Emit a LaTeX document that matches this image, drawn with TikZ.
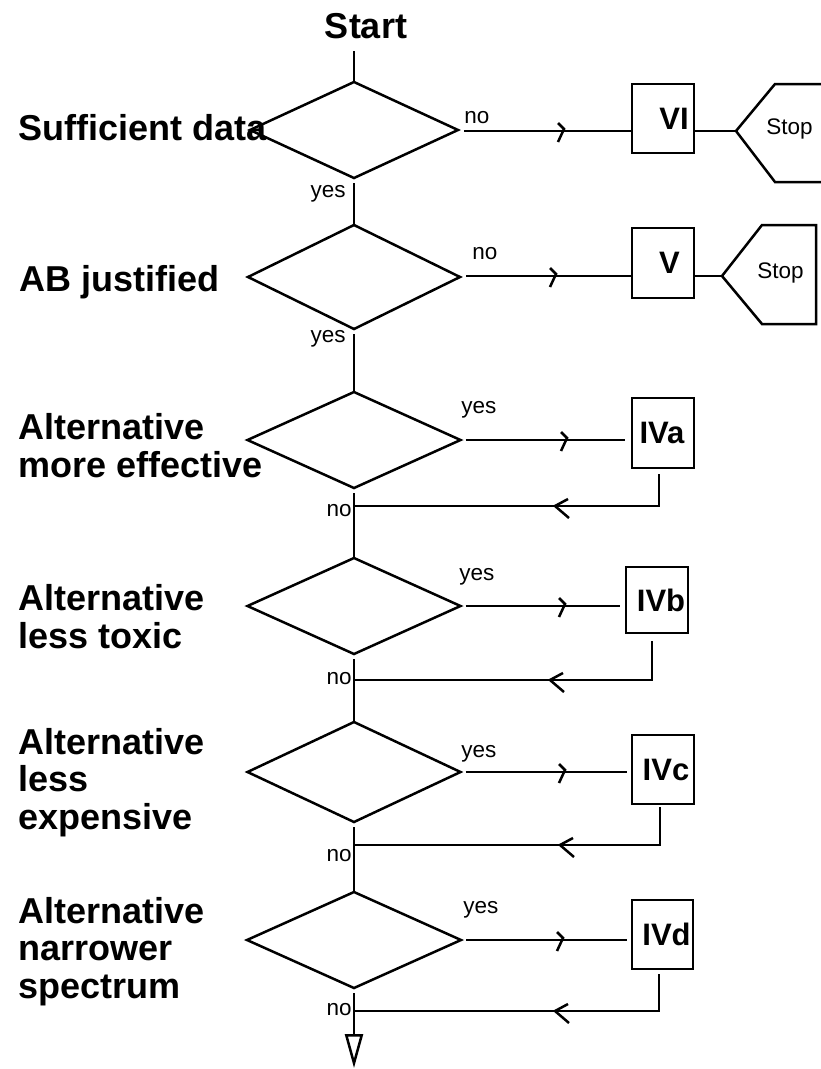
\documentclass[tikz,border=0pt]{standalone}
\usepackage{fontspec}
\setmainfont{Liberation Sans}
\usetikzlibrary{shapes.geometric,calc,decorations.markings,arrows.meta}
\begin{document}
\begin{tikzpicture}[x=1pt,y=-1pt,line width=2.5pt,
  dia/.style={draw,diamond,inner sep=0pt,outer sep=0pt,minimum width=213pt,minimum height=96pt},
  box/.style={draw,rectangle,inner sep=0pt,outer sep=0pt,minimum width=62pt,minimum height=70pt},
  boxtxt/.style={font=\fontsize{31}{31}\selectfont\bfseries,inner sep=0pt},
  big/.style={font=\fontsize{36}{37.5}\selectfont\bfseries,align=left,inner sep=0pt},
  small/.style={font=\fontsize{22.5}{24}\selectfont,inner sep=0pt},
  rmark/.style={postaction={decorate},decoration={markings,mark=at position #1 with {\draw[line width=2.5pt] (-6pt,8pt) -- (0pt,2pt) -- (-6pt,-11pt);}}},
  lmark/.style={postaction={decorate},decoration={markings,mark=at position #1 with {\draw[line width=2.5pt] (-13pt,-7pt) -- (0pt,0pt) -- (-14pt,12pt);}}},
  spine/.style={draw,shorten <=5pt}
]
\fill[white] (0,0) rectangle (820,1069);
\useasboundingbox (0,0) rectangle (820,1069);

% start
\node[big,anchor=base] (start) at (366,38) {Start};
\coordinate (s0) at (354,51);

% decisions
\node[dia,minimum width=208pt] (D1) at (354,130) {};
\node[dia,minimum width=212pt,minimum height=104pt] (D2) at (354,277) {};
\node[dia] (D3) at (354,440) {};
\node[dia] (D4) at (354,606) {};
\node[dia,minimum height=100pt] (D5) at (354,772) {};
\node[dia,minimum width=214pt] (D6) at (354,940) {};

% left texts (base anchor = baseline of last line)
\node[big,anchor=base west] (t1) at (17,140) {Sufficient data};
\node[big,anchor=base west] (t2) at (18,291) {AB justified};
\node[big,anchor=base west] (t3) at (17,477) {Alternative\\more effective};
\node[big,anchor=base west] (t4) at (17,648) {Alternative\\less toxic};
\node[big,anchor=base west] (t5) at (17,829) {Alternative\\less\\expensive};
\node[big,anchor=base west] (t6) at (17,998) {Alternative\\narrower\\spectrum};

% boxes
\node[box,minimum height=69pt] (VI) at (663,118.5) {};
\node[boxtxt] (VIt) at (674,118.5) {VI};
\node[box] (V) at (663,263) {};
\node[boxtxt] (Vt) at (669.5,263) {V};
\node[box] (IVa) at (663,433) {};
\node[boxtxt] (IVat) at (662,433) {IVa};
\node[box,minimum height=66pt] (IVb) at (657,600) {};
\node[boxtxt] (IVbt) at (661,600) {IVb};
\node[box,minimum height=69pt] (IVc) at (663,769.5) {};
\node[boxtxt] (IVct) at (666,769.5) {IVc};
\node[box,minimum width=61pt,minimum height=69pt] (IVd) at (662.5,934.5) {};
\node[boxtxt] (IVdt) at (666.5,934.5) {IVd};

% stop shapes
\coordinate (H1) at (736,131);
\coordinate (H2) at (722,276);
\draw (H1) -- (775,84) -- (832,84) -- (832,182) -- (775,182) -- cycle;
\draw (H2) -- (762,225) -- (816,225) -- (816,324) -- (762,324) -- cycle;
\node[small,anchor=base west] (stop1) at (765,134) {Stop};
\node[small,anchor=base west] (stop2) at (756,278) {Stop};

% spine
\draw (s0) -- (D1.north);
\draw[spine] (D1.south) -- (D2.north);
\draw[spine] (D2.south) -- (D3.north);
\draw[spine] (D3.south) -- (D4.north);
\draw[spine] (D4.south) -- (D5.north);
\draw[spine] (D5.south) -- (D6.north);
\coordinate (end) at (354,1068);
\draw[spine,-{Triangle[open,length=34pt,width=18pt]}] (D6.south) -- (end);

% branches to the right
\draw[rmark=-67pt] ($(D1.east)+(6,1)$) -- ($(D1.east -| VI.west)+(-1,1)$);
\draw (VI.east |- H1) -- (H1);
\draw[rmark=-75pt] ($(D2.east)+(6,-1)$) -- ($(D2.east -| V.west)+(-1,-1)$);
\draw (V.east |- H2) -- (H2);
\draw[rmark=-58pt] ($(D3.east)+(5,0)$) -- ($(D3.east -| IVa.west)+(-7,0)$);
\draw[rmark=-55pt] ($(D4.east)+(5,0)$) -- ($(D4.east -| IVb.west)+(-6,0)$);
\draw[rmark=-62pt] ($(D5.east)+(5,0)$) -- ($(D5.east -| IVc.west)+(-5,0)$);
\draw[rmark=-64pt] ($(D6.east)+(5,0)$) -- ($(D6.east -| IVd.west)+(-5,0)$);

% return lines
\coordinate (J3) at (354,506);
\coordinate (J4) at (354,680);
\coordinate (J5) at (354,845);
\coordinate (J6) at (354,1011);
\draw[lmark=-201pt] ($(IVa.south)+(-4,6)$) |- (J3);
\draw[lmark=-196pt] ($(IVb.south)+(-5,8)$) |- (J4);
\draw[lmark=-206pt] ($(IVc.south)+(-3,3)$) |- (J5);
\draw[lmark=-201pt] ($(IVd.south)+(-3.5,5)$) |- (J6);

% small labels
\node[small,anchor=base west] (n1) at (463,123) {no};
\node[small,anchor=base west] (n2) at (471,259) {no};
\node[small,anchor=base east] (y1) at (347,197) {yes};
\node[small,anchor=base east] (y2) at (347,342) {yes};
\node[small,anchor=base west] (y3) at (460,413) {yes};
\node[small,anchor=base west] (y4) at (458,580) {yes};
\node[small,anchor=base west] (y5) at (460,757) {yes};
\node[small,anchor=base west] (y6) at (462,913) {yes};
\node[small,anchor=base east] (n3) at (353,516) {no};
\node[small,anchor=base east] (n4) at (353,684) {no};
\node[small,anchor=base east] (n5) at (353,861) {no};
\node[small,anchor=base east] (n6) at (353,1015) {no};
\end{tikzpicture}
\end{document}
